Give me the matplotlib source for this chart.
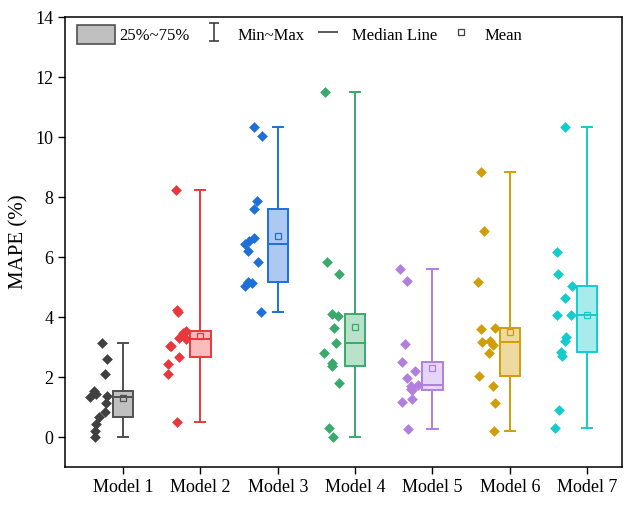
import numpy as np
import matplotlib
matplotlib.use("Agg")
import matplotlib.pyplot as plt
from matplotlib.patches import Patch
from matplotlib.lines import Line2D
from matplotlib.path import Path

plt.rcParams['font.family'] = ['Liberation Serif', 'DejaVu Serif']
plt.rcParams['mathtext.fontset'] = 'stix'

models = ["Model 1", "Model 2", "Model 3", "Model 4", "Model 5", "Model 6", "Model 7"]

model1 = [3.12, 2.59, 2.09, 1.53, 1.43, 1.37, 1.32, 1.14, 0.84, 0.68, 0.43, 0.20, 0.01]
model2 = [8.23, 4.22, 4.18, 3.53, 3.48, 3.30, 3.27, 3.05, 3.02, 2.66, 2.42, 2.10, 0.49]
model3 = [10.32, 10.04, 7.88, 7.61, 6.62, 6.55, 6.43, 6.20, 5.84, 5.18, 5.12, 5.02, 4.18]
model4 = [11.51, 5.84, 5.42, 4.10, 4.03, 3.62, 3.14, 2.81, 2.48, 2.38, 1.81, 0.31, 0.01]
model5 = [5.60, 5.21, 3.10, 2.51, 2.21, 1.96, 1.74, 1.70, 1.60, 1.57, 1.26, 1.18, 0.26]
model6 = [8.84, 6.87, 5.16, 3.62, 3.59, 3.20, 3.16, 3.07, 2.79, 2.04, 1.71, 1.12, 0.21]
model7 = [10.33, 6.18, 5.42, 5.03, 4.62, 4.07, 4.07, 3.34, 3.20, 2.82, 2.71, 0.90, 0.29]
data = [model1, model2, model3, model4, model5, model6, model7]

edge_colors = ["#505050", "#e8383d", "#1f6fd9", "#3aaa6b", "#b07fe0", "#d19d08", "#14cccc"]
fill_colors = ["#c0c0c0", "#fbbcbe", "#adc9f1", "#b8e3ca", "#e5d5f6", "#eed9a1", "#a8ebeb"]
point_colors = ["#404040", "#e8383d", "#1f6fd9", "#3aaa6b", "#b07fe0", "#d19d08", "#14cccc"]

fig = plt.figure(figsize=(6.26, 5.09), dpi=100)
ax = fig.add_axes([0.104, 0.0825, 0.8896, 0.8841])

positions = np.arange(1, len(models) + 1)
rng = np.random.default_rng(7)

for i, (vals, pos) in enumerate(zip(data, positions)):
    ec, fc = edge_colors[i], fill_colors[i]
    ax.boxplot([vals], positions=[pos], widths=0.26, whis=(0, 100),
               patch_artist=True, showmeans=True, capwidths=0.13,
               boxprops=dict(facecolor=fc, edgecolor=ec, linewidth=1.4),
               medianprops=dict(color=ec, linewidth=1.4),
               whiskerprops=dict(color=ec, linewidth=1.4),
               capprops=dict(color=ec, linewidth=1.4),
               meanprops=dict(marker='s', markerfacecolor='none',
                              markeredgecolor=ec, markersize=4.5,
                              markeredgewidth=0.9),
               showfliers=False, manage_ticks=False, zorder=3)
    jitter = rng.uniform(-0.43, -0.18, len(vals))
    ax.scatter(pos + jitter, vals, marker='D', s=30, color=point_colors[i],
               linewidths=0, zorder=4)

ax.set_xlim(0.25, 7.45)
ax.set_ylim(-1, 14)
ax.set_xticks(positions)
ax.set_xticklabels(models, fontsize=13)
ax.set_yticks(np.arange(0, 15, 2))
ax.tick_params(axis='y', labelsize=13, direction='out', length=5, width=1)
ax.tick_params(axis='x', direction='out', length=5, width=1)
ax.set_ylabel("MAPE (%)", fontsize=15, labelpad=5)
for sp in ax.spines.values():
    sp.set_linewidth(1.1)

# Legend glyph for the whisker range: a vertical bar with end caps
ibeam = Path([(-0.6, 1), (0.6, 1), (0, 1), (0, -1), (-0.6, -1), (0.6, -1)],
             [Path.MOVETO, Path.LINETO, Path.MOVETO, Path.LINETO,
              Path.MOVETO, Path.LINETO])
handles = [
    Patch(facecolor="#c0c0c0", edgecolor="#505050", linewidth=1.2),
    Line2D([], [], linestyle='none', marker=ibeam, markersize=13,
           markeredgecolor="#404040", markerfacecolor='none', markeredgewidth=1.2),
    Line2D([], [], linestyle='none', marker='_', markersize=15,
           markeredgecolor="#404040", markeredgewidth=1.2),
    Line2D([], [], linestyle='none', marker='s', markerfacecolor='none',
           markeredgecolor="#404040", markersize=4.5, markeredgewidth=0.9),
]
labels = ["25%~75%", "Min~Max", "Median Line", "Mean"]
ax.legend(handles, labels, loc='upper left', ncol=4, frameon=False,
          fontsize=12, bbox_to_anchor=(0.0, 1.009), handlelength=2.3,
          handleheight=1.4, handletextpad=0.25, columnspacing=0.3,
          borderaxespad=0.3)

fig.savefig("out.png", dpi=100)
